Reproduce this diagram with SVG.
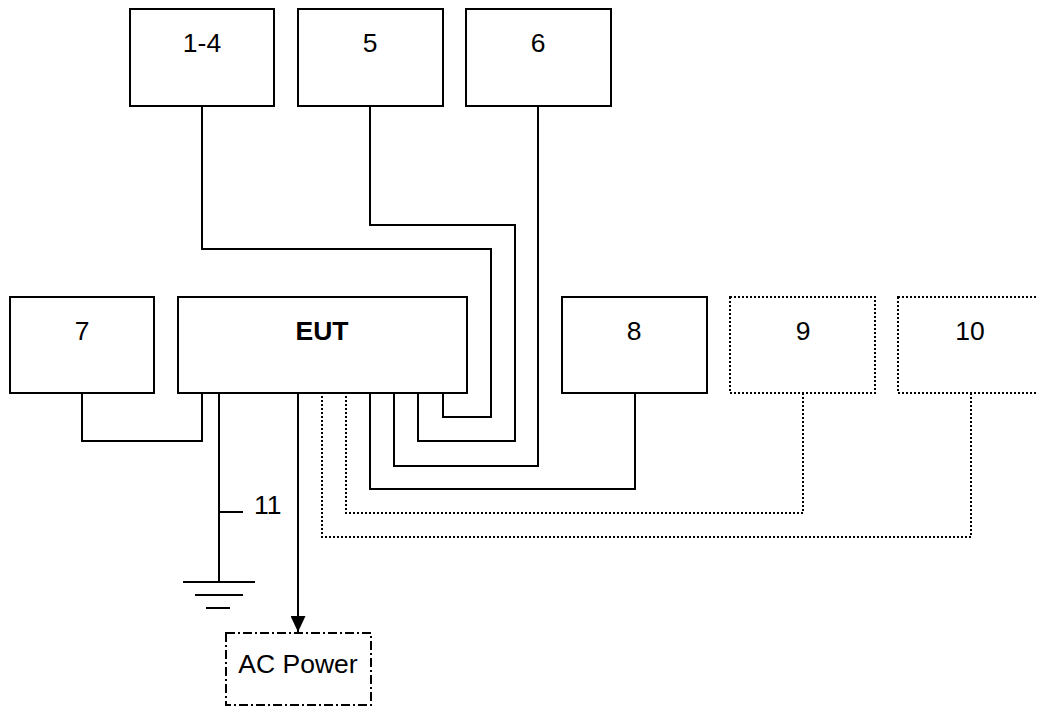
<svg xmlns="http://www.w3.org/2000/svg" width="1038" height="707" viewBox="0 0 1038 707">
<style>
.box{fill:#fff;stroke:#000;stroke-width:2}
.dbox{fill:#fff;stroke:#000;stroke-width:2;stroke-dasharray:2 2}
.ac{fill:#fff;stroke:#000;stroke-width:2;stroke-dasharray:9 3 2 3}
.w{fill:none;stroke:#000;stroke-width:2}
.dw{fill:none;stroke:#000;stroke-width:2;stroke-dasharray:2 2}
text{font-family:"Liberation Sans",Arial,sans-serif;font-size:26.5px;fill:#000;text-anchor:middle}
</style>
<defs>
<marker id="arr" viewBox="0 0 16 15" refX="16" refY="7.5" markerWidth="16" markerHeight="15" markerUnits="userSpaceOnUse" orient="auto">
<path d="M0,0 L16,7.5 L0,15 Z" fill="#000"/>
</marker>
</defs>
<rect width="1038" height="707" fill="#fff"/>
<g id="connectors">
<polyline class="w" points="202,106 202,249 491,249 491,417 443,417 443,393"/>
<polyline class="w" points="370,106 370,225 515,225 515,441 418,441 418,393"/>
<polyline class="w" points="538,106 538,466 394,466 394,393"/>
<polyline class="w" points="635,393 635,489 370,489 370,393"/>
<polyline class="dw" points="803,393 803,513 346,513 346,393"/>
<polyline class="dw" points="971,393 971,537 322,537 322,393"/>
<polyline class="w" points="82,393 82,441 202,441 202,393"/>
<line class="w" x1="219" y1="393" x2="219" y2="582"/>
<line class="w" x1="219" y1="512" x2="243" y2="512"/>
<line class="w" x1="183" y1="582" x2="255" y2="582"/>
<line class="w" x1="195" y1="595" x2="243" y2="595"/>
<line class="w" x1="206" y1="608" x2="230" y2="608"/>
<line class="w" x1="298" y1="393" x2="298" y2="632" marker-end="url(#arr)"/>
<text x="254" y="514" style="text-anchor:start">11</text>
</g>
<g id="n14"><rect class="box" x="130" y="9" width="144" height="97"/><text x="202" y="52">1-4</text></g>
<g id="n5"><rect class="box" x="298" y="9" width="145" height="97"/><text x="370" y="52">5</text></g>
<g id="n6"><rect class="box" x="466" y="9" width="145" height="97"/><text x="538" y="52">6</text></g>
<g id="n7"><rect class="box" x="10" y="297" width="144" height="96"/><text x="82" y="340">7</text></g>
<g id="eut"><rect class="box" x="178" y="297" width="289" height="96"/><text x="322" y="340" font-weight="bold">EUT</text></g>
<g id="n8"><rect class="box" x="562" y="297" width="145" height="96"/><text x="634" y="340">8</text></g>
<g id="n9"><rect class="dbox" x="730" y="297" width="145" height="96"/><text x="803" y="340">9</text></g>
<g id="n10"><rect class="dbox" x="898" y="297" width="145" height="96"/><text x="970" y="340">10</text></g>
<g id="ac"><rect class="ac" x="226" y="633" width="145" height="72"/><text x="298" y="673">AC Power</text></g>
</svg>
